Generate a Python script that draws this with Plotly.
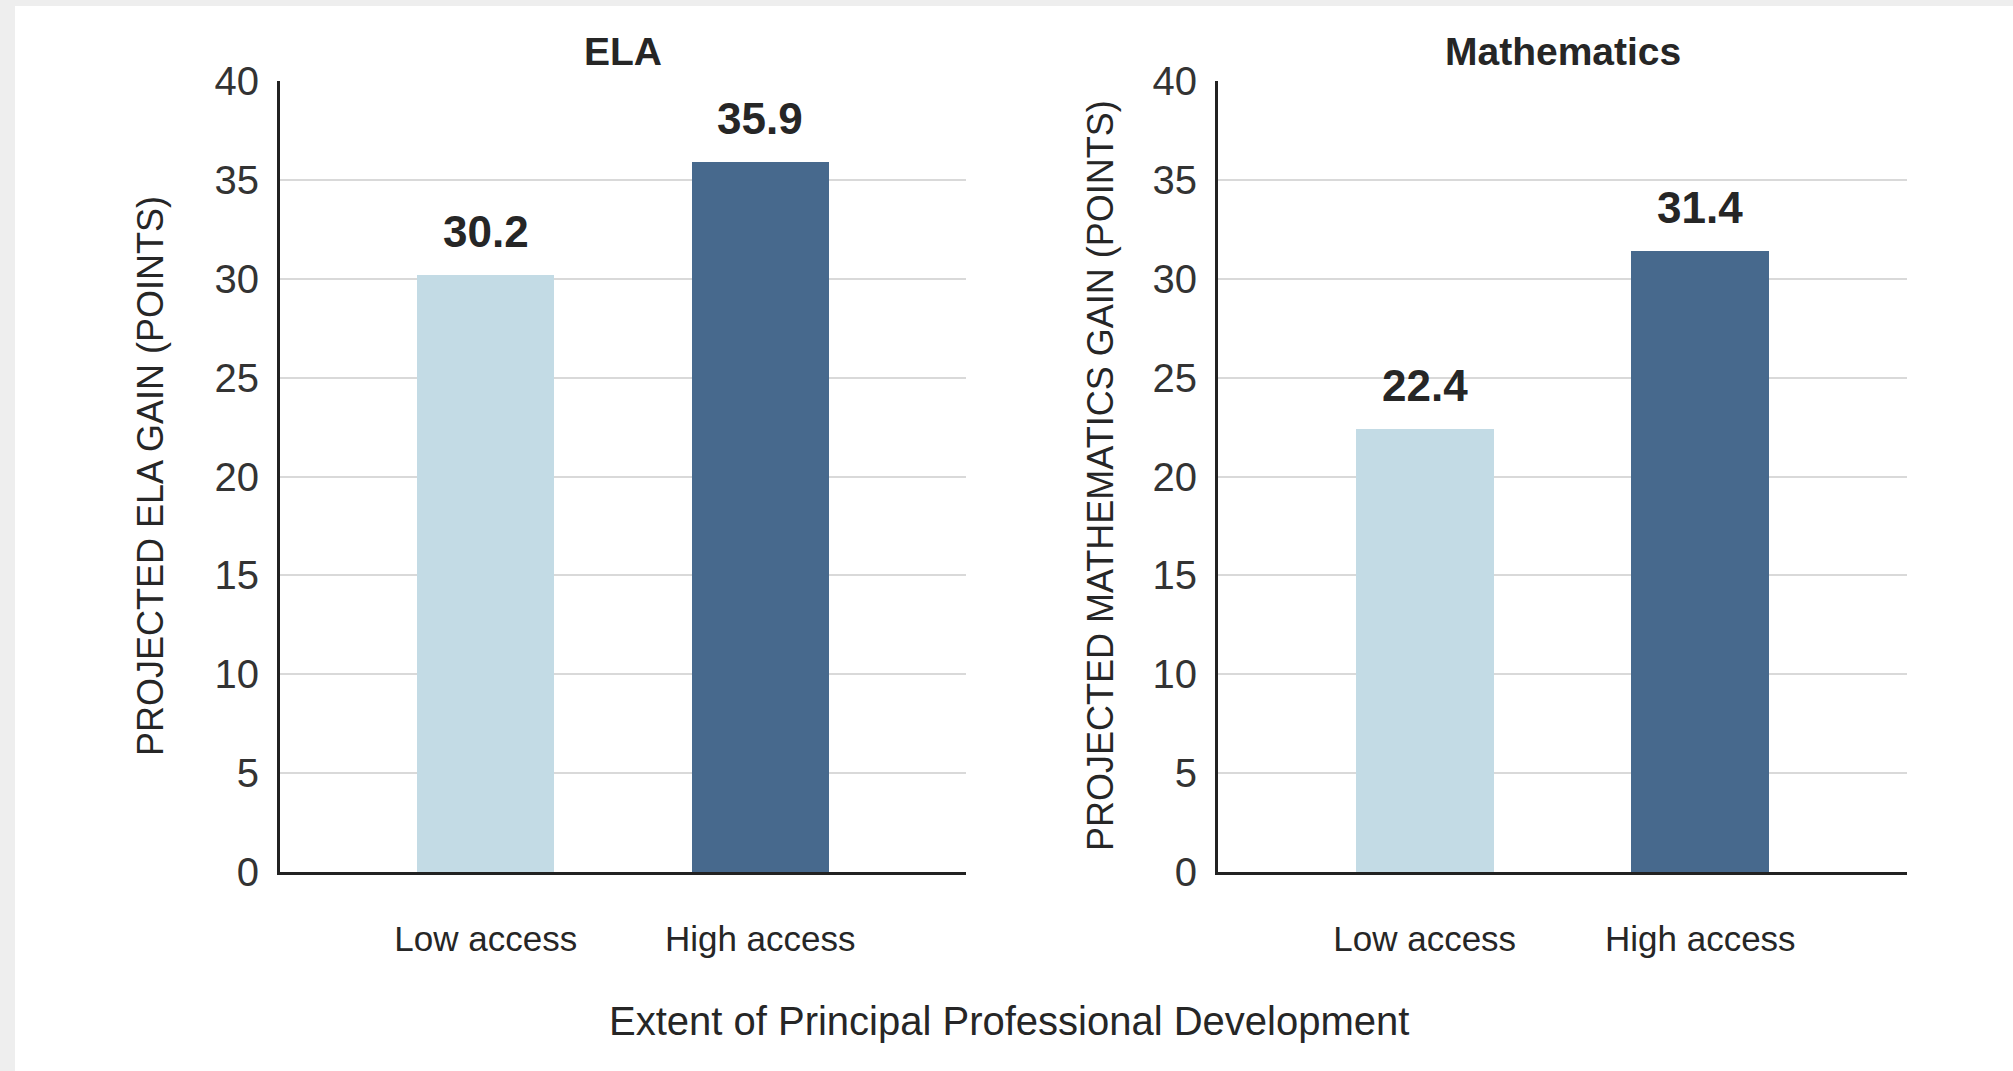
import plotly.graph_objects as go

# Data
categories = ["Low access", "High access"]
ela_gain = [30.2, 35.9]
math_gain = [22.4, 31.4]
bar_colors = ["#C3DBE5", "#47698D"]
panel_titles = ["ELA", "Mathematics"]
y_titles = ["PROJECTED ELA GAIN (POINTS)", "PROJECTED MATHEMATICS GAIN (POINTS)"]
x_title = "Extent of Principal Professional Development"
y_ticks = [0, 5, 10, 15, 20, 25, 30, 35, 40]

W, H = 2013, 1071
TEXT = "#262626"
FONT = "Liberation Sans, Arial, sans-serif"

def px_x(v):
    return v / W

def px_y(v):
    return 1 - v / H

fig = go.Figure()

fig.add_trace(go.Bar(x=categories, y=ela_gain, marker=dict(color=bar_colors, line=dict(width=0)),
                     width=0.5, xaxis="x", yaxis="y", hoverinfo="skip", showlegend=False))
fig.add_trace(go.Bar(x=categories, y=math_gain, marker=dict(color=bar_colors, line=dict(width=0)),
                     width=0.5, xaxis="x2", yaxis="y2", hoverinfo="skip", showlegend=False))

x_domains = [[px_x(280), px_x(966)], [px_x(1218), px_x(1907)]]
y_domain = [px_y(872), px_y(81)]

axis_common_y = dict(range=[0, 40], tickvals=y_ticks, showgrid=True, gridcolor="#D9D9D9", gridwidth=2,
                     showline=True, linecolor="#222222", linewidth=3, zeroline=False, ticks="",
                     ticklabelstandoff=10, tickfont=dict(family=FONT, size=40, color="#333333"),
                     domain=y_domain, fixedrange=True, automargin=False)
axis_common_x = dict(range=[-0.75, 1.75], type="category", showgrid=False, showline=True,
                     linecolor="#222222", linewidth=3, ticks="", ticklabelstandoff=34,
                     tickfont=dict(family=FONT, size=35, color=TEXT), fixedrange=True,
                     automargin=False)

fig.update_layout(
    template="none",
    width=W, height=H, autosize=False,
    margin=dict(l=0, r=0, t=0, b=0, pad=0),
    paper_bgcolor="white", plot_bgcolor="white",
    bargap=0,
    xaxis=dict(domain=x_domains[0], anchor="y", **axis_common_x),
    yaxis=dict(anchor="x", **axis_common_y),
    xaxis2=dict(domain=x_domains[1], anchor="y2", **axis_common_x),
    yaxis2=dict(anchor="x2", **axis_common_y),
)

annotations = []
# value labels above each bar
for xref, yref, vals in (("x", "y", ela_gain), ("x2", "y2", math_gain)):
    for cat, v in zip(categories, vals):
        annotations.append(dict(x=cat, y=v, xref=xref, yref=yref, text=f"<b>{v:.1f}</b>",
                                showarrow=False, yanchor="bottom", yshift=17,
                                font=dict(family=FONT, size=44, color=TEXT)))

# panel titles
for title, cx in zip(panel_titles, (623, 1563)):
    annotations.append(dict(x=px_x(cx), y=px_y(51), xref="paper", yref="paper", text=f"<b>{title}</b>",
                            showarrow=False, xanchor="center", yanchor="middle",
                            font=dict(family=FONT, size=39, color=TEXT)))

# vertical axis titles
for title, cx in zip(y_titles, (150, 1100)):
    annotations.append(dict(x=px_x(cx), y=px_y(476), xref="paper", yref="paper", text=title,
                            textangle=-90, showarrow=False, xanchor="center", yanchor="middle",
                            font=dict(family=FONT, size=36, color=TEXT)))

# shared horizontal axis title
annotations.append(dict(x=px_x(1009), y=px_y(1021), xref="paper", yref="paper", text=x_title,
                        showarrow=False, xanchor="center", yanchor="middle",
                        font=dict(family=FONT, size=40, color=TEXT)))

fig.update_layout(annotations=annotations)

# light grey frame along the top and left edges of the page
fig.update_layout(shapes=[
    dict(type="rect", xref="paper", yref="paper", x0=0, x1=1, y0=px_y(6), y1=1,
         fillcolor="#EEEEEE", line=dict(width=0), layer="below"),
    dict(type="rect", xref="paper", yref="paper", x0=0, x1=px_x(15), y0=0, y1=1,
         fillcolor="#EEEEEE", line=dict(width=0), layer="below"),
])

fig.write_html("out.html", config={"displayModeBar": False})
